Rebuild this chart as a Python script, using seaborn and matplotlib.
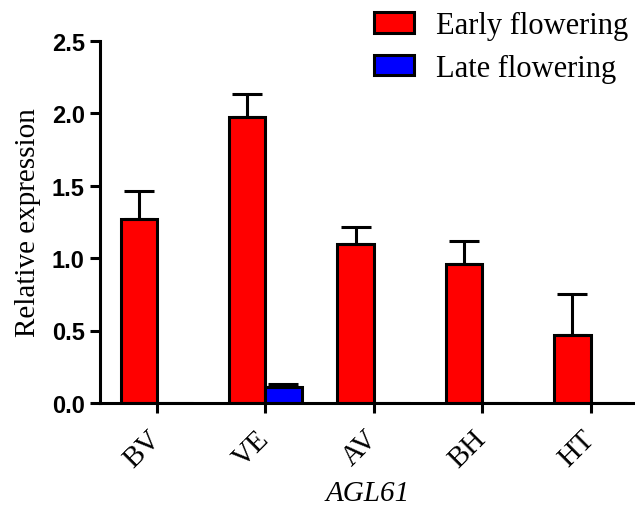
import matplotlib
matplotlib.use("Agg")
import matplotlib.pyplot as plt
import seaborn as sns
import pandas as pd

# Relative expression of AGL61 in five tissues
tissues = ["BV", "VE", "AV", "BH", "HT"]
groups = ["Early flowering", "Late flowering"]
early_mean = [1.27, 1.975, 1.095, 0.96, 0.47]
early_err = [0.19, 0.16, 0.12, 0.155, 0.285]
late_mean = [0.0, 0.11, 0.0, 0.0, 0.0]
late_err = [0.0, 0.02, 0.0, 0.0, 0.0]
colors = ["#FF0000", "#0000FF"]

df = pd.DataFrame({
    "tissue": tissues * 2,
    "group": [groups[0]] * len(tissues) + [groups[1]] * len(tissues),
    "value": early_mean + late_mean,
})
errs = [early_err, late_err]

sns.set_style("ticks")
plt.rcParams.update({"text.color": "black", "axes.labelcolor": "black",
                     "xtick.color": "black", "ytick.color": "black",
                     "axes.edgecolor": "black"})
serif = ["Liberation Serif", "DejaVu Serif"]
sans = ["Liberation Sans", "DejaVu Sans"]

fig = plt.figure(figsize=(6.35, 5.10), dpi=100)
ax = fig.add_axes([0.1575, 0.208, 0.8425, 0.71])

sns.barplot(data=df, x="tissue", y="value", hue="group", order=tissues,
            hue_order=groups, palette=colors, saturation=1, width=0.67,
            edgecolor="black", linewidth=2.2, errorbar=None, ax=ax, legend=True)

# one-sided (upper) error bars on each bar
for cont, err in zip(ax.containers, errs):
    for bar, e in zip(cont, err):
        if e <= 0:
            continue
        xc = bar.get_x() + bar.get_width() / 2
        ax.errorbar(xc, bar.get_height(), yerr=[[0], [e]], fmt="none",
                    ecolor="black", elinewidth=2.2, capsize=11, capthick=2.2,
                    zorder=1)

ax.set_ylim(0, 2.5)
ax.set_xlim(-0.525, 4.41)
ax.set_yticks([0.0, 0.5, 1.0, 1.5, 2.0, 2.5])
ax.set_yticklabels(["0.0", "0.5", "1.0", "1.5", "2.0", "2.5"],
                   family=sans, fontweight="bold", fontsize=17, color="black")
ax.set_xticks(range(len(tissues)))
ax.set_xticklabels(tissues, family=serif, fontsize=21, rotation=45,
                   ha="right", va="center", rotation_mode="anchor",
                   color="black")

ax.set_ylabel("Relative expression", family=serif, fontsize=21, labelpad=8,
              color="black")
ax.set_xlabel("AGL61", family=serif, fontsize=21, style="italic", labelpad=6,
              color="black")

for side in ["top", "right"]:
    ax.spines[side].set_visible(False)
for side in ["left", "bottom"]:
    ax.spines[side].set_linewidth(2.2)
    ax.spines[side].set_color("black")
ax.tick_params(axis="both", width=2.2, length=7.5, color="black", direction="out")
ax.tick_params(axis="x", pad=15)

leg = ax.legend(loc="upper right", bbox_to_anchor=(1.008, 1.0),
                bbox_transform=fig.transFigure, frameon=False,
                prop={"family": serif, "size": 22}, handlelength=1.3,
                handleheight=0.65, handletextpad=0.7, labelspacing=0.45,
                borderaxespad=0)
for h in leg.legend_handles:
    h.set_edgecolor("black")
    h.set_linewidth(2.2)
for t in leg.get_texts():
    t.set_color("black")

fig.savefig("out.png", dpi=100)
